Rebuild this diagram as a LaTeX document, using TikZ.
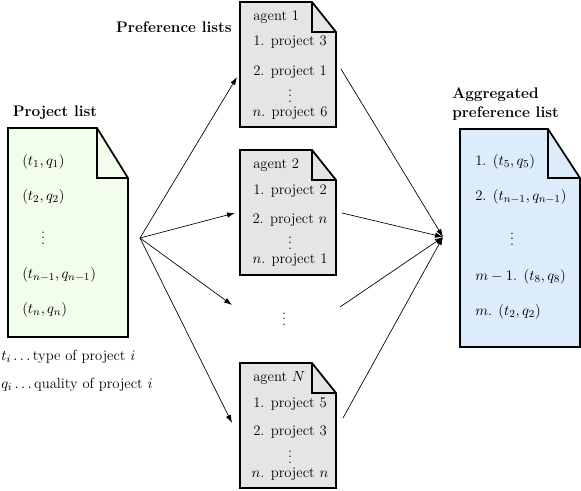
\documentclass[tikz,border=0pt]{standalone}
\usepackage{amsmath}
\usetikzlibrary{calc,arrows.meta}
\definecolor{plfill}{HTML}{F3FDEC}
\definecolor{agfill}{HTML}{E5E5E5}
\definecolor{apfill}{HTML}{DDECFB}
\tikzset{
  docline/.style={line width=1.3pt, line join=miter},
  conn/.style={-{Latex[length=6pt,width=4pt]}, line width=0.5pt},
  frame/.style={draw=none, inner sep=0pt, outer sep=0pt},
  item/.style={anchor=west, inner sep=0pt, font=\fontsize{11}{13.5}\selectfont},
  citem/.style={anchor=center, inner sep=0pt, font=\fontsize{11}{13.5}\selectfont},
  ttl/.style={font=\fontsize{11.5}{15}\selectfont\bfseries, inner sep=0pt},
}
\newcommand\docpath[4]{%
  \filldraw[docline, fill=#4] (#1.north west) -- ($(#1.north east)+(-#2,0)$) -- ($(#1.north east)+(0,#3)$) -- (#1.south east) -- (#1.south west) -- cycle;
  \draw[docline] ($(#1.north east)+(-#2,0)$) |- ($(#1.north east)+(0,#3)$);
}
\begin{document}
\begin{tikzpicture}[x=0.75pt,y=-0.75pt]
\useasboundingbox[fill=white] (0,0) rectangle (581,490);

% documents
\node[frame, minimum width=90pt, minimum height=156.75pt] (pl) at (68,232.5) {};
\docpath{pl}{31}{50}{plfill}
\node[frame, minimum width=72pt, minimum height=93.75pt] (ag1) at (288,64.5) {};
\docpath{ag1}{24}{30}{agfill}
\node[frame, minimum width=72pt, minimum height=93.75pt] (ag2) at (288,212.5) {};
\docpath{ag2}{24}{30}{agfill}
\node[frame, minimum width=72pt, minimum height=93.75pt] (agN) at (288,425.5) {};
\docpath{agN}{24}{30}{agfill}
\node[frame, minimum width=90pt, minimum height=163.5pt] (ap) at (520,238) {};
\docpath{ap}{32}{49}{apfill}

% titles
\node[ttl] (plt) at (55,113) {Project list};
\node[ttl, anchor=east] (prt) at (232,27) {Preference lists};
\node[ttl, anchor=west, align=left] (apt) at (452,104) {Aggregated\\[-1pt]preference list};

% project list items
\node[item] (p1) at (22,162) {$(t_1,q_1)$};
\node[item] (p2) at (22,197) {$(t_2,q_2)$};
\node[citem] (pd) at (43,234) {$\vdots$};
\node[item] (p3) at (22,275) {$(t_{n-1},q_{n-1})$};
\node[item] (p4) at (22,310) {$(t_n,q_n)$};

% legend
\node[item] (lg1) at (1,357) {$t_i\ldots$\,type of project $i$};
\node[item] (lg2) at (1,385) {$q_i\ldots$\,quality of project $i$};

% agent 1
\node[item] (a1h) at (253,17) {agent 1};
\node[citem] (a1a) at (290,42) {1. project 3};
\node[citem] (a1b) at (290,72) {2. project 1};
\node[citem] (a1d) at (290,92) {$\vdots$};
\node[citem] (a1n) at (290,113) {$n$. project 6};
% agent 2
\node[item] (a2h) at (253,165) {agent 2};
\node[citem] (a2a) at (290,191) {1. project 2};
\node[citem] (a2b) at (290,220) {2. project $n$};
\node[citem] (a2d) at (290,239) {$\vdots$};
\node[citem] (a2n) at (290,260) {$n$. project 1};
% agent N
\node[item] (aNh) at (253,378) {agent $N$};
\node[citem] (aNa) at (290,404) {1. project 5};
\node[citem] (aNb) at (290,432) {2. project 3};
\node[citem] (aNd) at (290,453) {$\vdots$};
\node[citem] (aNn) at (290,474) {$n$. project $n$};

% middle dots
\node[citem] (md) at (284,315) {$\vdots$};

% aggregated items
\node[item] (r1) at (475,162) {1. $(t_5,q_5)$};
\node[item] (r2) at (475,197) {2. $(t_{n-1},q_{n-1})$};
\node[citem] (rd) at (512,235) {$\vdots$};
\node[item] (r3) at (475,277) {$m-1$. $(t_8,q_8)$};
\node[item] (r4) at (475,312) {$m$. $(t_2,q_2)$};

% connector end points
\coordinate (src) at (140,238);
\coordinate (a1in) at (237,77);
\coordinate (a2in) at (235,213);
\coordinate (mdin) at (232,305);
\coordinate (aNin) at (232,423);
\coordinate (a1out) at (341,69);
\coordinate (a2out) at (342,213);
\coordinate (mdout) at (340,307);
\coordinate (aNout) at (343,418);
\coordinate (apin) at (443,237);

\draw[conn] (src) -- (a1in);
\draw[conn] (src) -- (a2in);
\draw[conn] (src) -- (mdin);
\draw[conn] (src) -- (aNin);
\draw[conn] (a1out) -- (apin);
\draw[conn] (a2out) -- (apin);
\draw[conn] (mdout) -- (apin);
\draw[conn] (aNout) -- (apin);
\end{tikzpicture}
\end{document}
